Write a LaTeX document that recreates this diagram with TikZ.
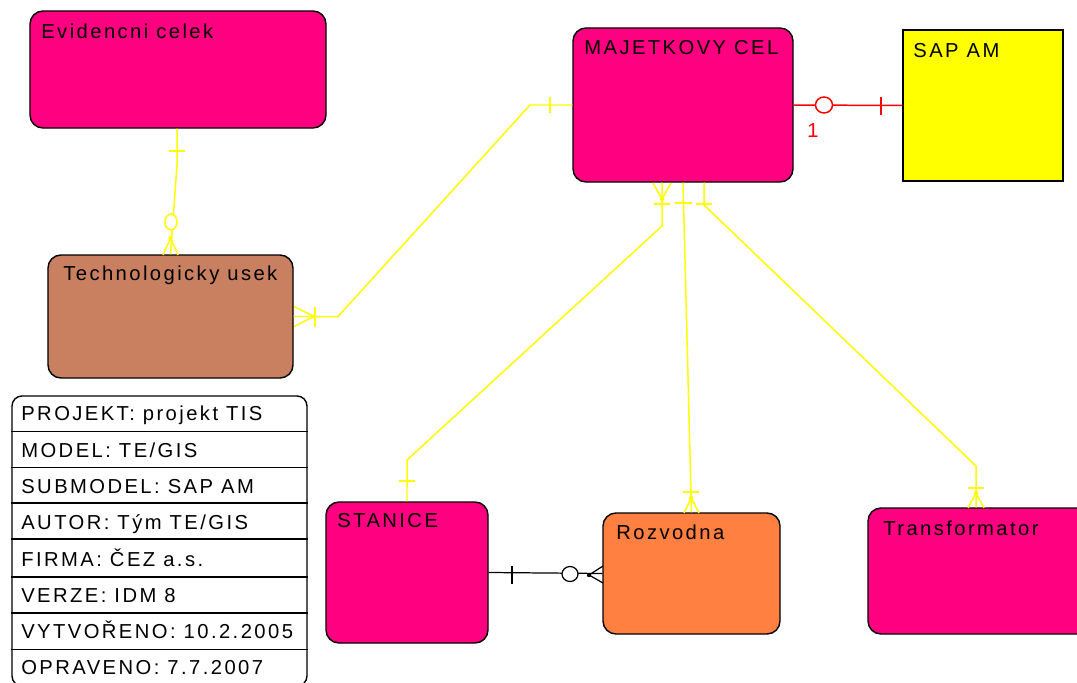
\documentclass[tikz,border=0pt]{standalone}
\usepackage{fontspec}
\setmainfont{Liberation Sans}[LetterSpace=12]
\definecolor{entpink}{RGB}{255,0,128}
\definecolor{entbrown}{RGB}{200,128,96}
\definecolor{entorange}{RGB}{255,128,64}
\definecolor{entyellow}{RGB}{255,255,0}
\definecolor{relyellow}{RGB}{255,255,0}
\definecolor{relred}{RGB}{255,0,0}
\begin{document}
\begin{tikzpicture}[scale=0.2,
    entity/.style={draw=black, line width=0.8pt, rounded corners=2.6mm, inner sep=0pt},
    etext/.style={anchor=base west, inner sep=0pt, font=\fontsize{11.5}{13}\selectfont},
    relline/.style={relyellow, line width=0.85pt},
    redline/.style={relred, line width=0.85pt},
    blackline/.style={black, line width=0.7pt}]
            \useasboundingbox (0,0) rectangle (107.7,-68.2);
            \clip (0,0) rectangle (107.7,-68.2);
            % entities
            \node (evid) [entity, fill=entpink, minimum width=5.92cm, minimum height=2.34cm] at (17.8,-6.95) {};
            \node (evidlbl) [etext] at (4.1,-3.8) {Evidencni celek};
            \node (tech) [entity, fill=entbrown, minimum width=4.9cm, minimum height=2.46cm] at (17.05,-31.65) {};
            \node (techlbl) [etext] at (6.3,-28.0) {Technologicky usek};
            \node (majet) [entity, fill=entpink, minimum width=4.4cm, minimum height=3.08cm] at (68.3,-10.5) {};
            \node (majetlbl) [etext] at (58.4,-5.43) {MAJETKOVY CEL};
            \node (sapam) [entity, rounded corners=0pt, fill=entyellow, minimum width=3.2cm, minimum height=3.02cm] at (98.3,-10.55) {};
            \node (sapamlbl) [etext] at (91.3,-5.7) {SAP AM};
            \node (stanice) [entity, fill=entpink, minimum width=3.24cm, minimum height=2.82cm] at (40.7,-57.25) {};
            \node (stanicelbl) [etext] at (33.7,-52.73) {STANICE};
            \node (rozv) [entity, fill=entorange, minimum width=3.54cm, minimum height=2.42cm] at (69.15,-57.35) {};
            \node (rozvlbl) [etext] at (61.6,-53.9) {Rozvodna};
            \node (trafo) [entity, fill=entpink, minimum width=4.44cm, minimum height=2.52cm] at (97.9,-57.1) {};
            \node (trafolbl) [etext] at (88.3,-53.5) {Transformator};
            % info table
            \node (info) [entity, rounded corners=2mm, fill=white, minimum width=5.9cm, minimum height=5.8cm] at (15.95,-54.1) {};
            \draw [black, line width=0.8pt] (info.west |- 0,-43.17) -- (info.east |- 0,-43.17);
            \draw [black, line width=0.8pt] (info.west |- 0,-46.73) -- (info.east |- 0,-46.73);
            \draw [black, line width=0.8pt] (info.west |- 0,-50.3) -- (info.east |- 0,-50.3);
            \draw [black, line width=0.8pt] (info.west |- 0,-53.9) -- (info.east |- 0,-53.9);
            \draw [black, line width=0.8pt] (info.west |- 0,-57.7) -- (info.east |- 0,-57.7);
            \draw [black, line width=0.8pt] (info.west |- 0,-61.3) -- (info.east |- 0,-61.3);
            \draw [black, line width=0.8pt] (info.west |- 0,-64.95) -- (info.east |- 0,-64.95);
            \node (rowprojekt) [etext] at (2.1,-42.0) {PROJEKT: projekt TIS};
            \node (rowmodel) [etext] at (2.1,-45.7) {MODEL: TE/GIS};
            \node (rowsubmodel) [etext] at (2.1,-49.3) {SUBMODEL: SAP AM};
            \node (rowautor) [etext] at (2.1,-52.9) {AUTOR: Tým TE/GIS};
            \node (rowfirma) [etext] at (2.1,-56.6) {FIRMA: ČEZ a.s.};
            \node (rowverze) [etext] at (2.1,-60.2) {VERZE: IDM 8};
            \node (rowvytvoreno) [etext] at (2.1,-63.8) {VYTVOŘENO: 10.2.2005};
            \node (rowopraveno) [etext] at (2.1,-67.4) {OPRAVENO: 7.7.2007};
            % Evidencni celek - Technologicky usek
            \draw [relline] (evid.south -| 17.7,0) -- (17.7,-16.5) -- (tech.north);
            \draw [relline] (16.9,-15.1) -- (18.5,-15.1);
            \draw [relline, fill=white] (17.1,-22.2) ellipse (0.6 and 0.8);
            \draw [relline] (16.3,-25.5) -- (17.05,-23.8) -- (17.8,-25.5);
            \fill [relyellow] (17.05,-23.8) circle (0.22);
            % MAJETKOVY CEL - Technologicky usek
            \draw [relline] (majet.west) -- (53.0,-10.5) -- (33.8,-31.65) -- (tech.east);
            \draw [relline] (55.0,-9.7) -- (55.0,-11.3);
            \draw [relline] (31.5,-30.65) -- (31.5,-32.65);
            \draw [relline] (29.4,-30.65) -- (31.4,-31.65) -- (29.4,-32.65);
            \fill [relyellow] (31.4,-31.65) circle (0.22);
            % MAJETKOVY CEL - SAP AM
            \draw [redline] (majet.east) -- (sapam.west);
            \draw [redline, fill=white] (82.4,-10.5) ellipse (0.85 and 0.8);
            \draw [redline] (88.1,-9.7) -- (88.1,-11.5);
            \node (onelbl) [etext, text=relred] at (80.7,-13.7) {1};
            % MAJETKOVY CEL - STANICE
            \draw [relline] (majet.south -| 66.2,0) -- (66.2,-22.6) -- (40.7,-46.0) -- (stanice.north);
            \draw [relline] (65.3,-18.3) -- (66.2,-19.9) -- (67.1,-18.3);
            \fill [relyellow] (66.2,-19.9) circle (0.22);
            \draw [relline] (65.4,-20.4) -- (67.0,-20.4);
            \draw [relline] (39.9,-48.1) -- (41.5,-48.1);
            % MAJETKOVY CEL - Rozvodna
            \draw [relline] (majet.south) -- (rozv.north);
            \draw [relline] (67.5,-20.3) -- (69.2,-20.3);
            \draw [relline] (68.3,-49.2) -- (69.9,-49.2);
            \draw [relline] (68.4,-51.3) -- (69.12,-49.8) -- (69.9,-51.3);
            \fill [relyellow] (69.12,-49.8) circle (0.22);
            % MAJETKOVY CEL - Transformator
            \draw [relline] (majet.south -| 70.4,0) -- (70.4,-20.5) -- (97.6,-46.6) -- (trafo.north -| 97.6,0);
            \draw [relline] (69.6,-20.4) -- (71.2,-20.4);
            \draw [relline] (96.8,-48.8) -- (98.4,-48.8);
            \draw [relline] (96.8,-50.8) -- (97.6,-49.3) -- (98.4,-50.8);
            \fill [relyellow] (97.6,-49.3) circle (0.22);
            % STANICE - Rozvodna
            \draw [blackline] (stanice.east) -- (rozv.west);
            \draw [blackline] (51.2,-56.6) -- (51.2,-58.4);
            \draw [blackline, fill=white] (57.0,-57.4) ellipse (0.8 and 0.75);
            \draw [blackline] (60.3,-56.6) -- (58.9,-57.5) -- (60.3,-58.3);
            \fill [black] (58.9,-57.5) circle (0.22);
        \end{tikzpicture}
\end{document}
